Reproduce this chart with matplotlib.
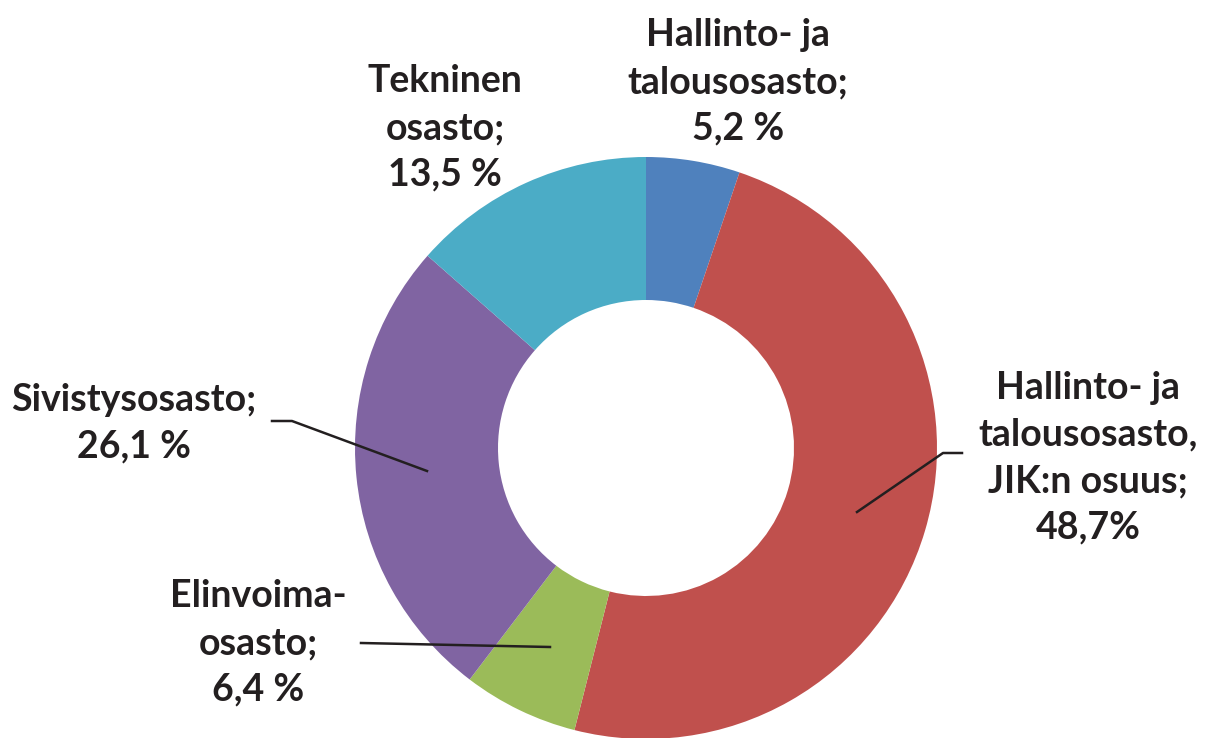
import matplotlib.pyplot as plt

# data
labels = ["Hallinto- ja\ntalousosasto;\n5,2 %",
          "Hallinto- ja\ntalousosasto,\nJIK:n osuus;\n48,7%",
          "Elinvoima-\nosasto;\n6,4 %",
          "Sivistysosasto;\n26,1 %",
          "Tekninen\nosasto;\n13,5 %"]
values = [5.2, 48.7, 6.4, 26.1, 13.5]
colors = ["#4F81BD", "#C0504D", "#9BBB59", "#8064A2", "#4BACC6"]

W, H = 1212, 738


def py(y):
    # pixel row (from top) -> data y
    return H - y


fig = plt.figure(figsize=(W / 100, H / 100), dpi=100)
ax = fig.add_axes([0, 0, 1, 1])

ax.pie(values, colors=colors, startangle=90, counterclock=False,
       center=(646, py(448)), radius=291,
       wedgeprops=dict(width=143, edgecolor="none"), frame=True)
ax.set_xlim(0, W)
ax.set_ylim(0, H)
ax.set_aspect("equal")
ax.axis("off")

# label positions (px) for each slice
label_pos = [(738, 82), (1088, 458), (258, 643), (134, 423), (445, 128)]
for lab, (x, y) in zip(labels, label_pos):
    ax.text(x, py(y), lab, ha="center", va="center", fontsize=27,
            fontweight="bold", family=["Lato", "DejaVu Sans"],
            color="#231F20", linespacing=1.45)

# leader lines
leaders = [
    [(857, 512), (943, 453), (962, 453)],
    [(361, 643), (550, 647)],
    [(272, 421), (292, 421), (427, 471)],
]
for pts in leaders:
    xs = [p[0] for p in pts]
    ys = [py(p[1]) for p in pts]
    ax.plot(xs, ys, color="#231F20", lw=1.8)

fig.savefig("out.png", dpi=100)
